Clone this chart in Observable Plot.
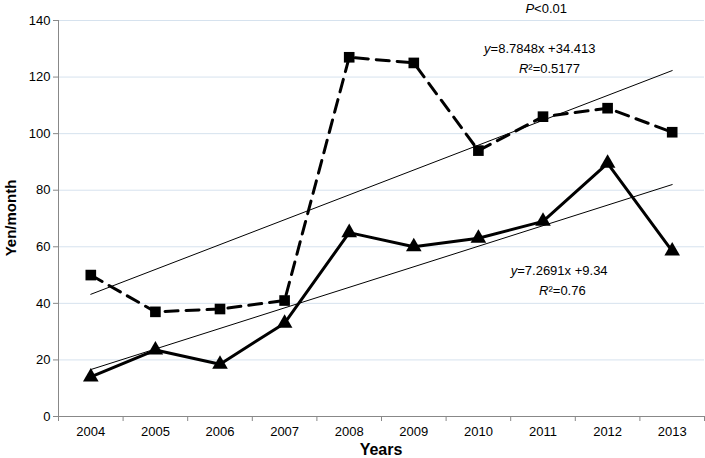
<!DOCTYPE html>
<html>
<head>
<meta charset="utf-8">
<script src="https://cdn.jsdelivr.net/npm/d3@7"></script>
<script src="https://cdn.jsdelivr.net/npm/@observablehq/plot@0.6"></script>
<style>
  html, body { margin: 0; padding: 0; background: #fff; }
  svg { font-family: "Liberation Sans", Arial, sans-serif; }
</style>
</head>
<body>
<div id="chart"></div>
<script>
const years = [2004, 2005, 2006, 2007, 2008, 2009, 2010, 2011, 2012, 2013];
const seriesDashed = [50, 37, 38, 41, 127, 125, 94, 106, 109, 100.5];
const seriesSolid = [14, 23.5, 18.5, 33, 65, 60, 63, 69, 89.5, 58.5];
const trendYears = [2004, 2013];
const trendDashed = [43.2, 122.3];
const trendSolid = [16.6, 82.0];
const yTicks = [0, 20, 40, 60, 80, 100, 120, 140];
const eqDashed = ["y=8.7848x +34.413", "R²=0.5177"];
const eqSolid = ["y=7.2691x +9.34", "R²=0.76"];
const pLabel = "P<0.01";

const dashed = years.map((x, i) => ({x, y: seriesDashed[i]}));
const solid = years.map((x, i) => ({x, y: seriesSolid[i]}));
const tDashed = trendYears.map((x, i) => ({x, y: trendDashed[i]}));
const tSolid = trendYears.map((x, i) => ({x, y: trendSolid[i]}));
const bounds = [...years.map(y => y - 0.5), years[years.length - 1] + 0.5];

const plot = Plot.plot({
  width: 705,
  height: 458,
  marginLeft: 58,
  marginRight: 1,
  marginTop: 20,
  marginBottom: 42,
  style: {fontSize: "13px", fontFamily: "Liberation Sans, Arial, sans-serif", color: "#000"},
  x: {type: "linear", domain: [2003.5, 2013.5]},
  y: {domain: [0, 140]},
  marks: [
    Plot.gridY(yTicks, {stroke: "#d6e2ee", strokeOpacity: 1, strokeWidth: 1}),
    Plot.axisY(yTicks, {tickSize: 5, tickPadding: 3, stroke: "#888", label: null, fontSize: 13}),
    Plot.axisX(years, {tickSize: 0, tickPadding: 10, tickFormat: d => String(d), label: null, fontSize: 13}),
    Plot.axisX(bounds, {tickSize: 5, tickFormat: () => "", stroke: "#888", label: null}),
    Plot.ruleX([2003.5], {stroke: "#888"}),
    Plot.ruleY([0], {stroke: "#888"}),
    Plot.line(tDashed, {x: "x", y: "y", stroke: "#000", strokeWidth: 1}),
    Plot.line(tSolid, {x: "x", y: "y", stroke: "#000", strokeWidth: 1}),
    Plot.line(dashed, {x: "x", y: "y", stroke: "#000", strokeWidth: 3, strokeDasharray: "13,8"}),
    Plot.line(solid, {x: "x", y: "y", stroke: "#000", strokeWidth: 3}),
    Plot.dot(dashed, {x: "x", y: "y", symbol: "square", r: 6, fill: "#000"}),
    Plot.dot(solid, {x: "x", y: "y", symbol: "triangle", r: 5.8, fill: "#000"}),
    Plot.text([eqDashed[0]], {x: 2010.95, y: 130, text: d => d, fontSize: 13, className: "eq"}),
    Plot.text([eqDashed[1]], {x: 2011.1, y: 123, text: d => d, fontSize: 13, className: "eq"}),
    Plot.text([eqSolid[0]], {x: 2011.25, y: 51.6, text: d => d, fontSize: 13, className: "eq"}),
    Plot.text([eqSolid[1]], {x: 2011.3, y: 44.3, text: d => d, fontSize: 13, className: "eq"}),
    Plot.text([pLabel], {x: 2011.05, y: 144.3, text: d => d, fontSize: 13, className: "eq"})
  ]
});

const svg = d3.select(plot);
svg.style("overflow", "visible");
// italicize the leading variable letter in the annotations
svg.selectAll(".eq text").each(function() {
  const t = d3.select(this);
  const s = t.text();
  t.text(null);
  t.append("tspan").attr("font-style", "italic").text(s[0]);
  t.append("tspan").text(s.slice(1));
});
// axis titles
svg.append("text")
  .attr("transform", "translate(12,218) rotate(-90)")
  .attr("text-anchor", "middle")
  .attr("dominant-baseline", "middle")
  .attr("font-weight", "bold")
  .attr("font-size", 15)
  .attr("fill", "#000")
  .text("Yen/month");
svg.append("text")
  .attr("x", 381)
  .attr("y", 451)
  .attr("text-anchor", "middle")
  .attr("dominant-baseline", "middle")
  .attr("font-weight", "bold")
  .attr("font-size", 16)
  .attr("fill", "#000")
  .text("Years");

document.getElementById("chart").appendChild(plot);
</script>
</body>
</html>
